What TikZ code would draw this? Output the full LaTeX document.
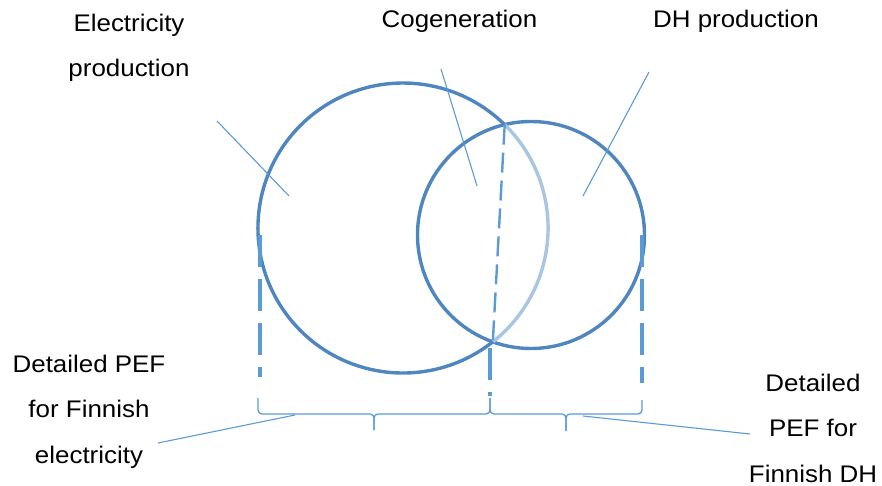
\documentclass[tikz,border=0pt]{standalone}
\usepackage{fontspec}
\setmainfont[FakeStretch=1.08]{Liberation Sans}
\usetikzlibrary{calc}

\definecolor{ringblue}{RGB}{79,134,192}
\definecolor{paleblue}{RGB}{168,198,226}
\definecolor{lineblue}{RGB}{91,155,213}

\begin{document}
\begin{tikzpicture}[
    x=1pt, y=-1pt, % pixel-like units, y pointing down
    ring/.style={ringblue, line width=3.4pt},
    pale/.style={paleblue, line width=3.4pt},
    cut/.style={lineblue, line width=3.2pt, dash pattern=on 32pt off 12pt},
    split/.style={lineblue, line width=2.4pt, dash pattern=on 20pt off 8pt},
    lead/.style={lineblue, line width=1.1pt},
    brc/.style={lineblue, line width=1.3pt, rounded corners=4pt},
    lbl/.style={align=center, inner sep=0pt, font=\fontsize{24}{45.5}\selectfont}
]

\useasboundingbox (0,0) rectangle (882,486);

% Centres and crossing points of the two circles
\coordinate (elc) at (403,228);
\coordinate (dhc) at (531,235);
\coordinate (top) at (504.7,124.6);
\coordinate (bot) at (492.8,341.8);

% Circles
\draw[ring] (dhc) circle[radius=113.5];
\draw[pale] (top) arc[start angle=-45.5, end angle=51.7, radius=145];
\draw[ring] (bot) arc[start angle=51.7, end angle=314.5, radius=145];

% Dashed limits
\draw[split] (top) -- (bot);
\draw[cut] (260,235) -- (260,377);
\draw[cut] (490,348) -- (490,396);
\draw[cut] (642,235) -- (642,383);

% Braces
\draw[brc] (258,398) -- (258,414) -- (374,414) -- (374,430);
\draw[brc] (374,430) -- (374,414) -- (490,414) -- (490,398);
\draw[brc] (490,398) -- (490,414) -- (566,414) -- (566,431);
\draw[brc] (566,431) -- (566,414) -- (642,414) -- (642,400);

% Labels (base = baseline of the last line)
\node[lbl, anchor=base] (elec) at (129,77) {Electricity\\production};
\node[lbl, anchor=base] (cogen) at (459.5,28) {Cogeneration};
\node[lbl, anchor=base] (dhprod) at (736,28) {DH production};
\node[lbl, anchor=base] (pefel) at (89,463) {Detailed PEF\\for Finnish\\electricity};
\node[lbl, anchor=base] (pefdh) at (813,482) {Detailed\\PEF for\\Finnish DH};

% Leader lines
\coordinate (elecin) at (289,196);
\coordinate (cogenin) at (477,186);
\coordinate (dhin) at (583,196);
\coordinate (elbrace) at (295,415);
\coordinate (dhbrace) at (583,416);
\draw[lead] (217,121) coordinate (elecout) -- (elecin);
\draw[lead] (441,69) coordinate (cogenout) -- (cogenin);
\draw[lead] (649,72) coordinate (dhout) -- (dhin);
\draw[lead] (158,443) coordinate (pefelout) -- (elbrace);
\draw[lead] (750,434) coordinate (pefdhout) -- (dhbrace);

\end{tikzpicture}
\end{document}
